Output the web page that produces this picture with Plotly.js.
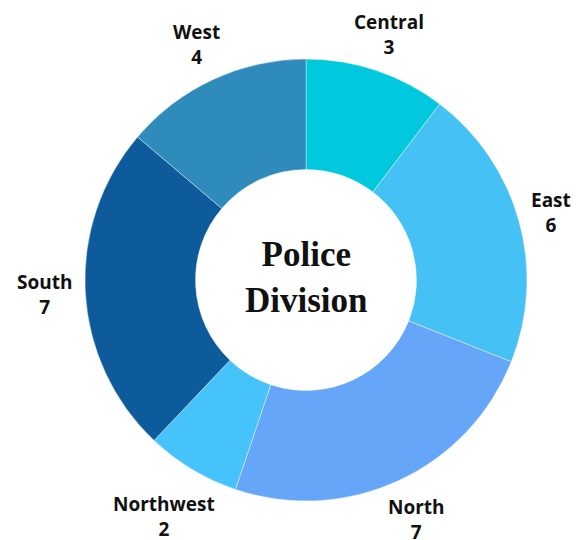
<!DOCTYPE html>
<html>
<head>
<meta charset="utf-8">
<script src="https://cdn.plot.ly/plotly-3.0.1.min.js"></script>
<style>html,body{margin:0;padding:0;background:#fff;}#chart{width:584px;height:540px;}</style>
</head>
<body>
<div id="chart"></div>
<script>
const divisions = ["Central", "East", "North", "Northwest", "South", "West"];
const counts = [3, 6, 7, 2, 7, 4];
const colors = ["#00C9DD", "#45C1F6", "#66A6F8", "#47C3FB", "#0E5B9B", "#2E8BBB"];
const centerTitle = "Police<br>Division";

const W = 584, H = 540;
const cx = 306, cy = 280, R = 221;
const labelRadii = [259, 254, 264, 276, 262, 260];

const total = counts.reduce((a, b) => a + b, 0);
let cum = 0;
const annotations = divisions.map((d, i) => {
  const mid = (cum + counts[i] / 2) / total * 2 * Math.PI;
  cum += counts[i];
  const px = cx + labelRadii[i] * Math.sin(mid);
  const py = cy - labelRadii[i] * Math.cos(mid);
  return {
    x: px / W, y: 1 - py / H, xref: "paper", yref: "paper",
    text: d + "<br>" + counts[i], showarrow: false,
    xanchor: "center", yanchor: "middle", align: "center",
    font: {family: "Open Sans, sans-serif", size: 19, color: "#111", weight: 700}
  };
});
annotations.push({
  x: cx / W, y: 1 - (cy - 3) / H, xref: "paper", yref: "paper",
  text: centerTitle, showarrow: false, xanchor: "center", yanchor: "middle", align: "center",
  font: {family: "Liberation Serif, serif", size: 35, color: "#111", weight: 700}
});

const trace = {
  type: "pie",
  labels: divisions,
  values: counts,
  hole: 0.5,
  sort: false,
  direction: "clockwise",
  rotation: 0,
  textinfo: "none",
  hoverinfo: "label+value",
  marker: {colors: colors, line: {color: "rgba(255,255,255,0.5)", width: 0.8}},
  domain: {x: [(cx - R) / W, (cx + R) / W], y: [1 - (cy + R) / H, 1 - (cy - R) / H]}
};

Plotly.newPlot("chart", [trace], {
  width: W, height: H,
  margin: {l: 0, r: 0, t: 0, b: 0},
  paper_bgcolor: "#fff",
  showlegend: false,
  annotations: annotations
}, {displayModeBar: false, staticPlot: true});
</script>
</body>
</html>
